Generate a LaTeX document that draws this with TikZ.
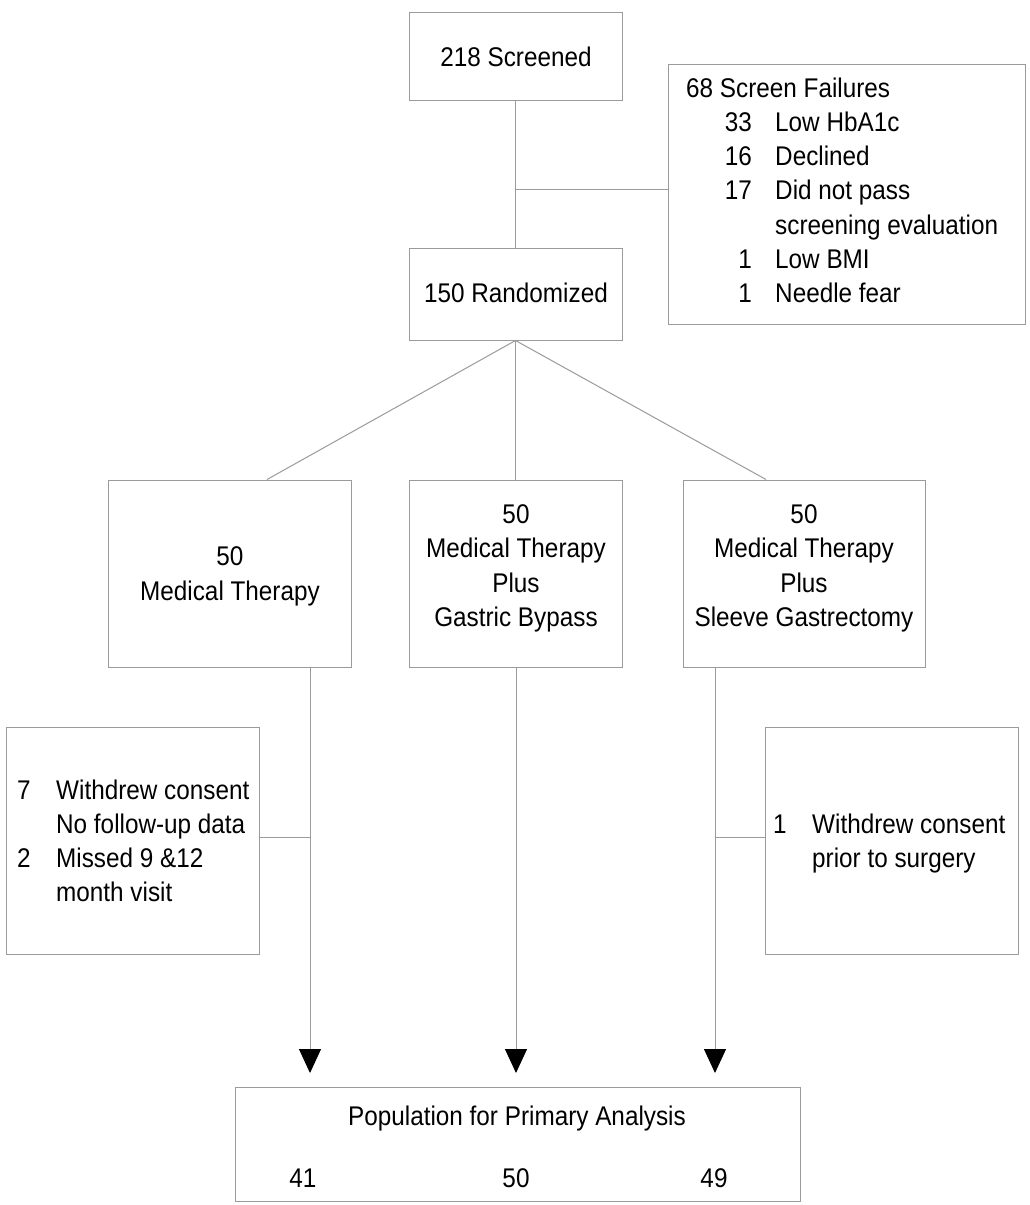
\documentclass[tikz,border=0pt]{standalone}
\usepackage{fontspec}
\setmainfont{Liberation Sans}[FakeStretch=0.9]
\usetikzlibrary{arrows.meta}
\definecolor{linegray}{RGB}{155,155,155}
\newcommand\myfs{\fontsize{27}{34}\selectfont}
\begin{document}
\begin{tikzpicture}[x=1pt,y=-1pt,
  box/.style={draw=linegray, line width=1pt, inner sep=0, fill=none},
  txt/.style={inner sep=0, anchor=base, font=\myfs, text=black},
  txtl/.style={txt, anchor=base west},
  txtr/.style={txt, anchor=base east},
  conn/.style={draw=linegray, line width=1pt},
  arr/.style={conn, -{Triangle[width=22pt,length=24pt,color=black]}}
]
\useasboundingbox (0,0) rectangle (1029,1205);
\fill[white] (0,0) rectangle (1029,1205);

% boxes
\node[box, minimum width=213, minimum height=88] (scr) at (515.5,56) {};
\node[box, minimum width=357, minimum height=260] (fail) at (846.5,194) {};
\node[box, minimum width=213, minimum height=92] (rnd) at (515.5,294) {};
\node[box, minimum width=243, minimum height=187] (mt) at (229.5,573.5) {};
\node[box, minimum width=213, minimum height=187] (gb) at (515.5,573.5) {};
\node[box, minimum width=242, minimum height=187] (sg) at (804.5,573.5) {};
\node[box, minimum width=253, minimum height=227] (lw) at (132.5,840.5) {};
\node[box, minimum width=253, minimum height=227] (rw) at (891.5,840.5) {};
\node[box, minimum width=565, minimum height=114] (pop) at (517.5,1144) {};

% texts
\node[txt] (scrT) at (516,66) {218 Screened};
\node[txt] (rndT) at (516,302) {150 Randomized};

\node[txtl] (f0) at (686,97) {68 Screen Failures};
\node[txtr] (f1n) at (752,131.3) {33};
\node[txtl] (f1t) at (775,131.3) {Low HbA1c};
\node[txtr] (f2n) at (752,165.6) {16};
\node[txtl] (f2t) at (775,165.6) {Declined};
\node[txtr] (f3n) at (752,199.9) {17};
\node[txtl] (f3t) at (775,199.9) {Did not pass};
\node[txtl] (f3u) at (775,234.2) {screening evaluation};
\node[txtr] (f4n) at (752,268.5) {1};
\node[txtl] (f4t) at (775,268.5) {Low BMI};
\node[txtr] (f5n) at (752,302.8) {1};
\node[txtl] (f5t) at (775,302.8) {Needle fear};

\node[txt] (mt1) at (230,565) {50};
\node[txt] (mt2) at (230,600) {Medical Therapy};

\node[txt] (gb1) at (516,523) {50};
\node[txt] (gb2) at (516,557.5) {Medical Therapy};
\node[txt] (gb3) at (516,592) {Plus};
\node[txt] (gb4) at (516,626.5) {Gastric Bypass};

\node[txt] (sg1) at (804,523) {50};
\node[txt] (sg2) at (804,557.5) {Medical Therapy};
\node[txt] (sg3) at (804,592) {Plus};
\node[txt] (sg4) at (804,626.5) {Sleeve Gastrectomy};

\node[txtl] (l1n) at (17,799) {7};
\node[txtl] (l1t) at (56,799) {Withdrew consent};
\node[txtl] (l1u) at (56,833) {No follow-up data};
\node[txtl] (l2n) at (17,867) {2};
\node[txtl] (l2t) at (56,867) {Missed 9 \&12};
\node[txtl] (l2u) at (56,901) {month visit};

\node[txtl] (r1n) at (773,833) {1};
\node[txtl] (r1t) at (812,833) {Withdrew consent};
\node[txtl] (r1u) at (812,867) {prior to surgery};

\node[txt] (popT) at (517,1125) {Population for Primary Analysis};
\node[txt] (p1) at (303,1187) {41};
\node[txt] (p2) at (516,1187) {50};
\node[txt] (p3) at (714,1187) {49};

% connectors
\coordinate (b1) at (516,189);
\draw[conn] (scr.south) -- (rnd.north);
\draw[conn] (b1) -- (b1 -| fail.west);

\draw[conn] (rnd.south) -- ([xshift=37.5pt]mt.north);
\draw[conn] (rnd.south) -- (gb.north);
\draw[conn] (rnd.south) -- ([xshift=-38.5pt]sg.north);

\coordinate (a1) at (310,1073);
\coordinate (a2) at (516,1073);
\coordinate (a3) at (715,1073);
\coordinate (j1) at (310,837);
\coordinate (j3) at (715,837);

\draw[arr] (mt.south -| a1) -- (a1);
\draw[arr] (gb.south -| a2) -- (a2);
\draw[arr] (sg.south -| a3) -- (a3);
\draw[conn] (lw.east |- j1) -- (j1);
\draw[conn] (j3) -- (rw.west |- j3);
\end{tikzpicture}
\end{document}
